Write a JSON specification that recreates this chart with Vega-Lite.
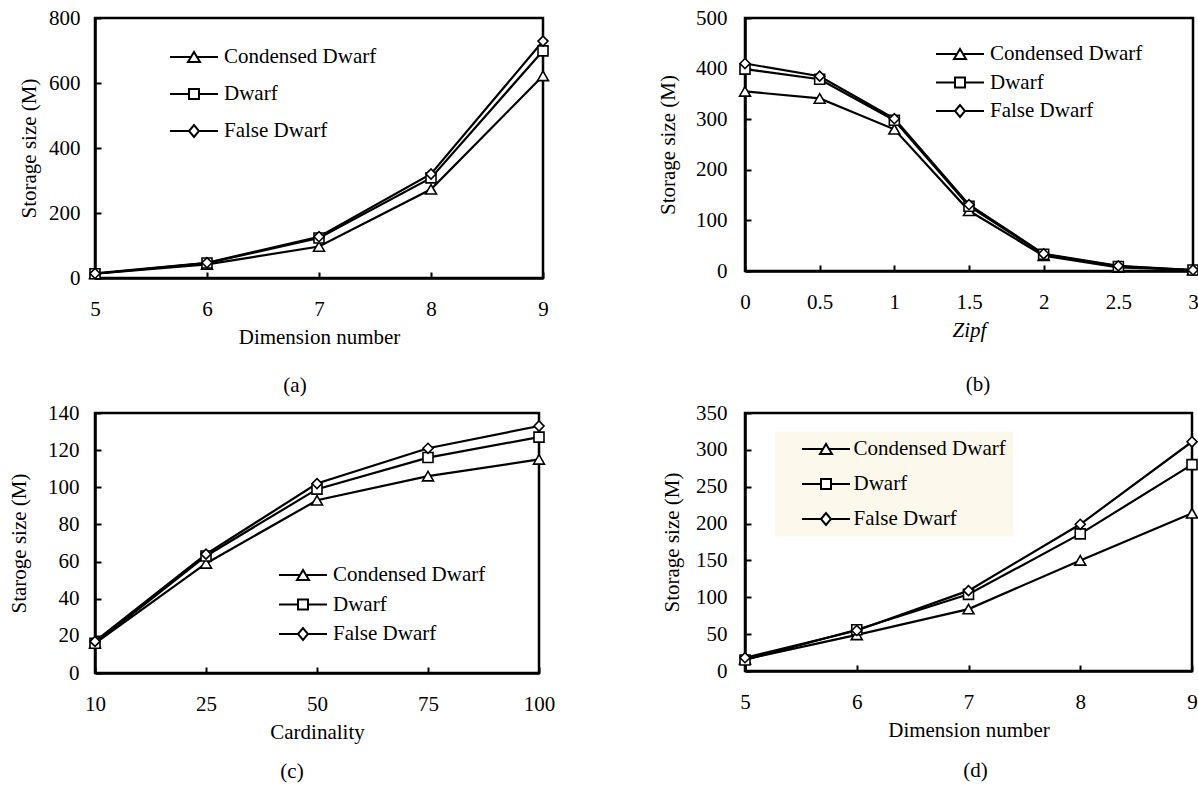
{
  "$schema": "https://vega.github.io/schema/vega-lite/v6.json",
  "padding": {"left": 7, "top": 5, "right": 0, "bottom": 0},
  "background": "white",
  "bounds": "flush",
  "align": "all",
  "columns": 2,
  "spacing": {"row": 135, "column": 202},
  "resolve": {"scale": {"shape": "independent"}, "legend": {"shape": "independent"}},
  "config": {
    "font": "Liberation Serif",
    "view": {"stroke": "black", "strokeWidth": 2.5},
    "axis": {"labelFont": "Liberation Serif", "labelFontSize": 21, "labelColor": "black", "titleFont": "Liberation Serif", "titleFontSize": 21, "titleFontWeight": "normal", "titleColor": "black", "domainColor": "black", "domainWidth": 2.5, "tickColor": "black", "tickWidth": 2, "tickSize": -6, "grid": false, "labelFlush": false, "labelOverlap": false, "zindex": 1},
    "axisX": {"labelPadding": 26, "titlePadding": 7, "labelAngle": 0},
    "axisY": {"labelPadding": 22},
    "legend": {"orient": "none", "labelFont": "Liberation Serif", "labelFontSize": 21, "labelColor": "black", "padding": 0, "symbolOffset": 0, "labelOffset": 19.5, "title": null, "symbolSize": 4, "symbolStrokeWidth": 2, "symbolOpacity": 1},
    "title": {"font": "Liberation Serif", "fontSize": 21, "fontWeight": "normal", "color": "black", "orient": "bottom", "anchor": "middle", "frame": "group", "offset": 20}
  },
  "datasets": {
    "dsA": [
      {"series": "Condensed Dwarf", "dim": 5, "size": 13}, {"series": "Condensed Dwarf", "dim": 6, "size": 42}, {"series": "Condensed Dwarf", "dim": 7, "size": 97}, {"series": "Condensed Dwarf", "dim": 8, "size": 273}, {"series": "Condensed Dwarf", "dim": 9, "size": 622},
      {"series": "Dwarf", "dim": 5, "size": 13}, {"series": "Dwarf", "dim": 6, "size": 46}, {"series": "Dwarf", "dim": 7, "size": 123}, {"series": "Dwarf", "dim": 8, "size": 308}, {"series": "Dwarf", "dim": 9, "size": 699},
      {"series": "False Dwarf", "dim": 5, "size": 14}, {"series": "False Dwarf", "dim": 6, "size": 47}, {"series": "False Dwarf", "dim": 7, "size": 127}, {"series": "False Dwarf", "dim": 8, "size": 320}, {"series": "False Dwarf", "dim": 9, "size": 729}
    ],
    "dsB": [
      {"series": "Condensed Dwarf", "zipf": 0, "size": 355}, {"series": "Condensed Dwarf", "zipf": 0.5, "size": 341}, {"series": "Condensed Dwarf", "zipf": 1, "size": 280}, {"series": "Condensed Dwarf", "zipf": 1.5, "size": 119}, {"series": "Condensed Dwarf", "zipf": 2, "size": 30}, {"series": "Condensed Dwarf", "zipf": 2.5, "size": 7}, {"series": "Condensed Dwarf", "zipf": 3, "size": 2},
      {"series": "Dwarf", "zipf": 0, "size": 399}, {"series": "Dwarf", "zipf": 0.5, "size": 379}, {"series": "Dwarf", "zipf": 1, "size": 298}, {"series": "Dwarf", "zipf": 1.5, "size": 128}, {"series": "Dwarf", "zipf": 2, "size": 33}, {"series": "Dwarf", "zipf": 2.5, "size": 9}, {"series": "Dwarf", "zipf": 3, "size": 2},
      {"series": "False Dwarf", "zipf": 0, "size": 410}, {"series": "False Dwarf", "zipf": 0.5, "size": 385}, {"series": "False Dwarf", "zipf": 1, "size": 301}, {"series": "False Dwarf", "zipf": 1.5, "size": 131}, {"series": "False Dwarf", "zipf": 2, "size": 34}, {"series": "False Dwarf", "zipf": 2.5, "size": 10}, {"series": "False Dwarf", "zipf": 3, "size": 2}
    ],
    "dsC": [
      {"series": "Condensed Dwarf", "card": 10, "size": 16}, {"series": "Condensed Dwarf", "card": 25, "size": 59}, {"series": "Condensed Dwarf", "card": 50, "size": 93}, {"series": "Condensed Dwarf", "card": 75, "size": 106}, {"series": "Condensed Dwarf", "card": 100, "size": 115},
      {"series": "Dwarf", "card": 10, "size": 16}, {"series": "Dwarf", "card": 25, "size": 63}, {"series": "Dwarf", "card": 50, "size": 99}, {"series": "Dwarf", "card": 75, "size": 116}, {"series": "Dwarf", "card": 100, "size": 127},
      {"series": "False Dwarf", "card": 10, "size": 17}, {"series": "False Dwarf", "card": 25, "size": 64}, {"series": "False Dwarf", "card": 50, "size": 102}, {"series": "False Dwarf", "card": 75, "size": 121}, {"series": "False Dwarf", "card": 100, "size": 133}
    ],
    "dsD": [
      {"series": "Condensed Dwarf", "dim": 5, "size": 16}, {"series": "Condensed Dwarf", "dim": 6, "size": 49}, {"series": "Condensed Dwarf", "dim": 7, "size": 84}, {"series": "Condensed Dwarf", "dim": 8, "size": 150}, {"series": "Condensed Dwarf", "dim": 9, "size": 214},
      {"series": "Dwarf", "dim": 5, "size": 15}, {"series": "Dwarf", "dim": 6, "size": 56}, {"series": "Dwarf", "dim": 7, "size": 104}, {"series": "Dwarf", "dim": 8, "size": 186}, {"series": "Dwarf", "dim": 9, "size": 280},
      {"series": "False Dwarf", "dim": 5, "size": 18}, {"series": "False Dwarf", "dim": 6, "size": 55}, {"series": "False Dwarf", "dim": 7, "size": 109}, {"series": "False Dwarf", "dim": 8, "size": 199}, {"series": "False Dwarf", "dim": 9, "size": 311}
    ]
  },
  "concat": [
    {
      "width": 448, "height": 260,
      "title": {"text": "(a)", "dx": -24, "offset": 28},
      "data": {"name": "dsA"},
      "encoding": {
        "x": {"field": "dim", "type": "quantitative", "scale": {"domain": [5, 9], "nice": false, "zero": false}, "axis": {"values": [5, 6, 7, 8, 9], "format": "d", "title": "Dimension number"}},
        "y": {"field": "size", "type": "quantitative", "scale": {"domain": [0, 800], "nice": false}, "axis": {"values": [0, 200, 400, 600, 800], "title": "Storage size (M)", "labelPadding": 21, "titlePadding": 9}}
      },
      "layer": [
        {"mark": {"type": "line", "color": "black", "strokeWidth": 2.2}, "encoding": {"detail": {"field": "series"}}},
        {"transform": [{"filter": "datum.series === 'Condensed Dwarf'"}], "mark": {"type": "point", "shape": "triangle-up", "filled": true, "fill": "white", "stroke": "black", "strokeWidth": 1.6, "size": 120, "opacity": 1}},
        {"transform": [{"filter": "datum.series === 'Dwarf'"}], "mark": {"type": "point", "shape": "square", "filled": true, "fill": "white", "stroke": "black", "strokeWidth": 1.6, "size": 100, "opacity": 1}},
        {"transform": [{"filter": "datum.series === 'False Dwarf'"}], "mark": {"type": "point", "shape": "diamond", "filled": true, "fill": "white", "stroke": "black", "strokeWidth": 1.6, "size": 100, "opacity": 1}},
        {"transform": [{"filter": "false"}],
         "mark": {"type": "point", "filled": true, "fill": "white", "stroke": "black", "strokeWidth": 2, "size": 4, "opacity": 1},
         "encoding": {"shape": {"field": "series", "type": "nominal", "scale": {"domain": ["Condensed Dwarf", "Dwarf", "False Dwarf"], "range": ["M-24,0H-3M3,0H24M0,-5L6,5L-6,5Z", "M-24,0H-5M5,0H24M-5,-5H5V5H-5Z", "M-24,0H-5M5,0H24M-5,0L0,-6L5,0L0,6Z"]},
           "legend": {"legendX": 88.5, "legendY": 28.5, "rowPadding": 15}}}}
      ]
    },
    {
      "width": 448, "height": 253,
      "title": {"text": "(b)", "dx": 9, "offset": 34},
      "data": {"name": "dsB"},
      "encoding": {
        "x": {"field": "zipf", "type": "quantitative", "scale": {"domain": [0, 3], "nice": false, "zero": false}, "axis": {"values": [0, 0.5, 1, 1.5, 2, 2.5, 3], "format": "~g", "title": "Zipf", "titleFontStyle": "italic"}},
        "y": {"field": "size", "type": "quantitative", "scale": {"domain": [0, 500], "nice": false}, "axis": {"values": [0, 100, 200, 300, 400, 500], "title": "Storage size (M)", "labelPadding": 24, "titlePadding": 17}}
      },
      "layer": [
        {"mark": {"type": "line", "color": "black", "strokeWidth": 2.2}, "encoding": {"detail": {"field": "series"}}},
        {"transform": [{"filter": "datum.series === 'Condensed Dwarf'"}], "mark": {"type": "point", "shape": "triangle-up", "filled": true, "fill": "white", "stroke": "black", "strokeWidth": 1.6, "size": 120, "opacity": 1}},
        {"transform": [{"filter": "datum.series === 'Dwarf'"}], "mark": {"type": "point", "shape": "square", "filled": true, "fill": "white", "stroke": "black", "strokeWidth": 1.6, "size": 100, "opacity": 1}},
        {"transform": [{"filter": "datum.series === 'False Dwarf'"}], "mark": {"type": "point", "shape": "diamond", "filled": true, "fill": "white", "stroke": "black", "strokeWidth": 1.6, "size": 100, "opacity": 1}},
        {"transform": [{"filter": "false"}],
         "mark": {"type": "point", "filled": true, "fill": "white", "stroke": "black", "strokeWidth": 2, "size": 4, "opacity": 1},
         "encoding": {"shape": {"field": "series", "type": "nominal", "scale": {"domain": ["Condensed Dwarf", "Dwarf", "False Dwarf"], "range": ["M-24,0H-3M3,0H24M0,-5L6,5L-6,5Z", "M-24,0H-5M5,0H24M-5,-5H5V5H-5Z", "M-24,0H-5M5,0H24M-5,0L0,-6L5,0L0,6Z"]},
           "legend": {"legendX": 204.5, "legendY": 25.5, "rowPadding": 6.5}}}}
      ]
    },
    {
      "width": 444, "height": 260,
      "title": {"text": "(c)", "dx": -25, "offset": 19},
      "data": {"name": "dsC"},
      "encoding": {
        "x": {"field": "card", "type": "ordinal", "scale": {"type": "point", "padding": 0, "domain": [10, 25, 50, 75, 100]}, "axis": {"title": "Cardinality"}},
        "y": {"field": "size", "type": "quantitative", "scale": {"domain": [0, 140], "nice": false}, "axis": {"values": [0, 20, 40, 60, 80, 100, 120, 140], "title": "Staroge size (M)", "labelPadding": 22, "titlePadding": 18}}
      },
      "layer": [
        {"mark": {"type": "line", "color": "black", "strokeWidth": 2.2}, "encoding": {"detail": {"field": "series"}}},
        {"transform": [{"filter": "datum.series === 'Condensed Dwarf'"}], "mark": {"type": "point", "shape": "triangle-up", "filled": true, "fill": "white", "stroke": "black", "strokeWidth": 1.6, "size": 120, "opacity": 1}},
        {"transform": [{"filter": "datum.series === 'Dwarf'"}], "mark": {"type": "point", "shape": "square", "filled": true, "fill": "white", "stroke": "black", "strokeWidth": 1.6, "size": 100, "opacity": 1}},
        {"transform": [{"filter": "datum.series === 'False Dwarf'"}], "mark": {"type": "point", "shape": "diamond", "filled": true, "fill": "white", "stroke": "black", "strokeWidth": 1.6, "size": 100, "opacity": 1}},
        {"transform": [{"filter": "false"}],
         "mark": {"type": "point", "filled": true, "fill": "white", "stroke": "black", "strokeWidth": 2, "size": 4, "opacity": 1},
         "encoding": {"shape": {"field": "series", "type": "nominal", "scale": {"domain": ["Condensed Dwarf", "Dwarf", "False Dwarf"], "range": ["M-24,0H-3M3,0H24M0,-5L6,5L-6,5Z", "M-24,0H-5M5,0H24M-5,-5H5V5H-5Z", "M-24,0H-5M5,0H24M-5,0L0,-6L5,0L0,6Z"]},
           "legend": {"legendX": 197.5, "legendY": 151.5, "rowPadding": 7.5}}}}
      ]
    },
    {
      "width": 447, "height": 258,
      "title": {"text": "(d)", "dx": 7, "offset": 20},
      "data": {"name": "dsD"},
      "encoding": {
        "x": {"field": "dim", "type": "quantitative", "scale": {"domain": [5, 9], "nice": false, "zero": false}, "axis": {"values": [5, 6, 7, 8, 9], "format": "d", "title": "Dimension number"}},
        "y": {"field": "size", "type": "quantitative", "scale": {"domain": [0, 350], "nice": false}, "axis": {"values": [0, 50, 100, 150, 200, 250, 300, 350], "title": "Storage size (M)", "labelPadding": 24, "titlePadding": 13}}
      },
      "layer": [
        {"mark": {"type": "line", "color": "black", "strokeWidth": 2.2}, "encoding": {"detail": {"field": "series"}}},
        {"transform": [{"filter": "datum.series === 'Condensed Dwarf'"}], "mark": {"type": "point", "shape": "triangle-up", "filled": true, "fill": "white", "stroke": "black", "strokeWidth": 1.6, "size": 120, "opacity": 1}},
        {"transform": [{"filter": "datum.series === 'Dwarf'"}], "mark": {"type": "point", "shape": "square", "filled": true, "fill": "white", "stroke": "black", "strokeWidth": 1.6, "size": 100, "opacity": 1}},
        {"transform": [{"filter": "datum.series === 'False Dwarf'"}], "mark": {"type": "point", "shape": "diamond", "filled": true, "fill": "white", "stroke": "black", "strokeWidth": 1.6, "size": 100, "opacity": 1}},
        {"transform": [{"filter": "false"}],
         "mark": {"type": "point", "filled": true, "fill": "white", "stroke": "black", "strokeWidth": 2, "size": 4, "opacity": 1},
         "encoding": {"shape": {"field": "series", "type": "nominal", "scale": {"domain": ["Condensed Dwarf", "Dwarf", "False Dwarf"], "range": ["M-24,0H-3M3,0H24M0,-5L6,5L-6,5Z", "M-24,0H-5M5,0H24M-5,-5H5V5H-5Z", "M-24,0H-5M5,0H24M-5,0L0,-6L5,0L0,6Z"]},
           "legend": {"legendX": 30, "legendY": 18.5, "rowPadding": 13, "padding": 7, "fillColor": "#FDF8EC", "symbolOffset": 33.5, "labelOffset": 17}}}}
      ]
    }
  ]
}
